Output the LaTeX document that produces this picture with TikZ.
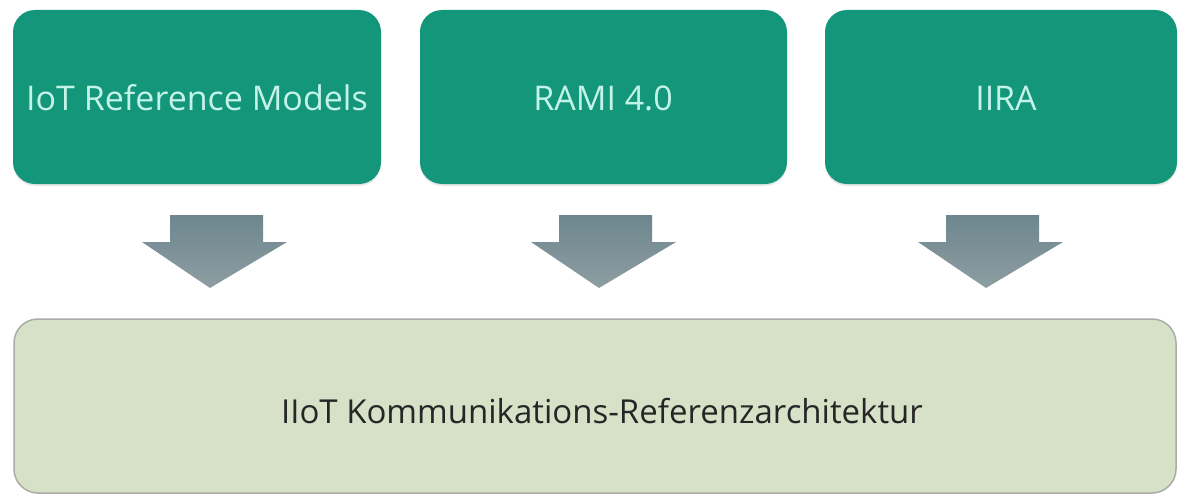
\documentclass[tikz,border=0pt]{standalone}
\usepackage{fontspec}
\setmainfont{Open Sans}
\usetikzlibrary{shadows}
\definecolor{teal}{HTML}{13967A}
\definecolor{tealtext}{HTML}{C4F3E8}
\definecolor{sage}{HTML}{D6E1C8}
\definecolor{sageedge}{HTML}{A9ADA5}
\definecolor{arrowtop}{HTML}{6D868E}
\definecolor{arrowbot}{HTML}{8E9EA2}
\tikzset{
  x=1pt, y=-1pt,
  modelbox/.style={fill=teal, rounded corners=22pt, draw=none,
    drop shadow={shadow xshift=0pt, shadow yshift=-2pt, opacity=0.18}},
  modeltext/.style={text=tealtext, font=\fontsize{34}{40}\selectfont},
  archbox/.style={fill=sage, draw=sageedge, line width=1.5pt, rounded corners=24pt},
  archtext/.style={text=black!85, font=\fontsize{33}{40}\selectfont},
  flowarrow/.style={top color=arrowtop, bottom color=arrowbot, draw=none}
}
\begin{document}
\begin{tikzpicture}
\useasboundingbox (0,0) rectangle (1178,495);
\fill[white] (0,0) rectangle (1178,495);
\clip (0,0) rectangle (1178,495);

% source models
\path[modelbox] (13,10) rectangle (381,184);
\node[modeltext] (iot) at (197,98) {IoT Reference Models};
\path[modelbox] (420,10) rectangle (787,184);
\node[modeltext] (rami) at (603,98) {RAMI 4.0};
\path[modelbox] (825,10) rectangle (1177,184);
\node[modeltext] (iira) at (1006,98) {IIRA};

% target architecture
\path[archbox] (14,319) rectangle (1176,493);
\node[archtext] (arch) at (602,411) {IIoT Kommunikations-Referenzarchitektur};

% block arrows
\foreach \cx in {214,603,990}{
  \path[flowarrow] (\cx-44,215) -- (\cx+49,215) -- (\cx+49,242) -- (\cx+73,242)
    -- (\cx-4,288) -- (\cx-72,242) -- (\cx-44,242) -- cycle;
}
\end{tikzpicture}
\end{document}
